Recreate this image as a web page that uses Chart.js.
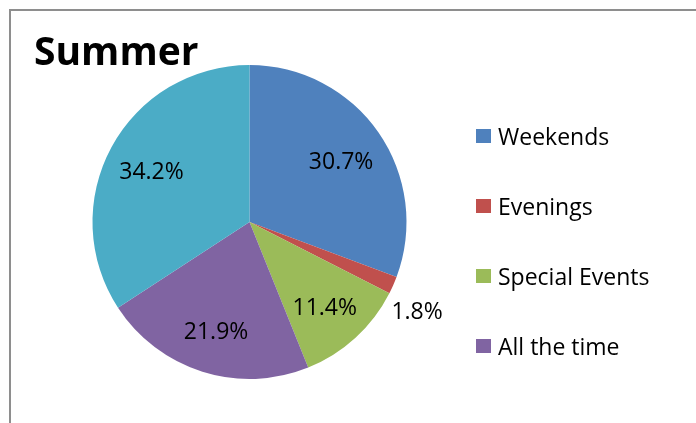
<!DOCTYPE html>
<html>
<head>
<meta charset="utf-8">
<script src="https://cdn.jsdelivr.net/npm/chart.js@4"></script>
<style>
  html, body { margin: 0; padding: 0; background: #fff; }
  #wrap { position: relative; width: 696px; height: 423px; overflow: hidden; }
  #frame { position: absolute; left: 9px; top: 9px; right: -5px; bottom: -5px;
           border-top: 2px solid #8e8e8e; border-left: 2px solid #8e8e8e; }
  canvas { position: absolute; left: 0; top: 0; }
</style>
</head>
<body>
<div id="wrap">
  <div id="frame"></div>
  <canvas id="pie" width="696" height="423"></canvas>
</div>
<script>
// chart data
const title = 'Summer';
const labels = ['Weekends', 'Evenings', 'Special Events', 'All the time', ''];
const values = [30.7, 1.8, 11.4, 21.9, 34.2];
const colors = ['#4f81bd', '#c0504d', '#9bbb59', '#8064a2', '#4bacc6'];

const FONT = '"Open Sans", Lato, sans-serif';

// percentage labels + title + legend, drawn on the canvas
const decorations = {
  id: 'decorations',
  afterDatasetsDraw(chart) {
    const ctx = chart.ctx;
    const meta = chart.getDatasetMeta(0);
    const total = values.reduce((a, b) => a + b, 0);
    ctx.save();
    ctx.fillStyle = '#000';
    ctx.font = '23px ' + FONT;
    ctx.textAlign = 'center';
    ctx.textBaseline = 'middle';
    meta.data.forEach((arc, i) => {
      const p = arc.getProps(['x', 'y', 'startAngle', 'endAngle', 'outerRadius'], true);
      const pct = values[i] / total * 100;
      let mid = (p.startAngle + p.endAngle) / 2;
      let d = p.outerRadius * 0.71;
      if (pct < 5) { d = p.outerRadius * 1.2; mid += 0.06; }
      // +4: digits sit above the em-box middle
      ctx.fillText(pct.toFixed(1) + '%', p.x + Math.cos(mid) * d, p.y + Math.sin(mid) * d + 4);
    });

    // title
    ctx.textAlign = 'left';
    ctx.textBaseline = 'alphabetic';
    ctx.font = 'bold 39px ' + FONT;
    ctx.fillText(title, 34, 65);

    // legend (the unnamed slice is left out)
    ctx.font = '23px ' + FONT;
    ctx.textBaseline = 'middle';
    let y = 136;
    labels.forEach((l, i) => {
      if (!l) return;
      ctx.fillStyle = colors[i];
      ctx.fillRect(476, y - 7, 15, 14);
      ctx.fillStyle = '#000';
      ctx.fillText(l, 498, y + 2);
      y += 70;
    });
    ctx.restore();
  }
};

new Chart(document.getElementById('pie'), {
  type: 'pie',
  data: {
    labels: labels,
    datasets: [{
      data: values,
      backgroundColor: colors,
      borderWidth: 0
    }]
  },
  options: {
    responsive: false,
    animation: false,
    layout: { padding: { left: 92, right: 289, top: 65, bottom: 44 } },
    plugins: {
      legend: { display: false },
      tooltip: { enabled: false }
    }
  },
  plugins: [decorations]
});
</script>
</body>
</html>
